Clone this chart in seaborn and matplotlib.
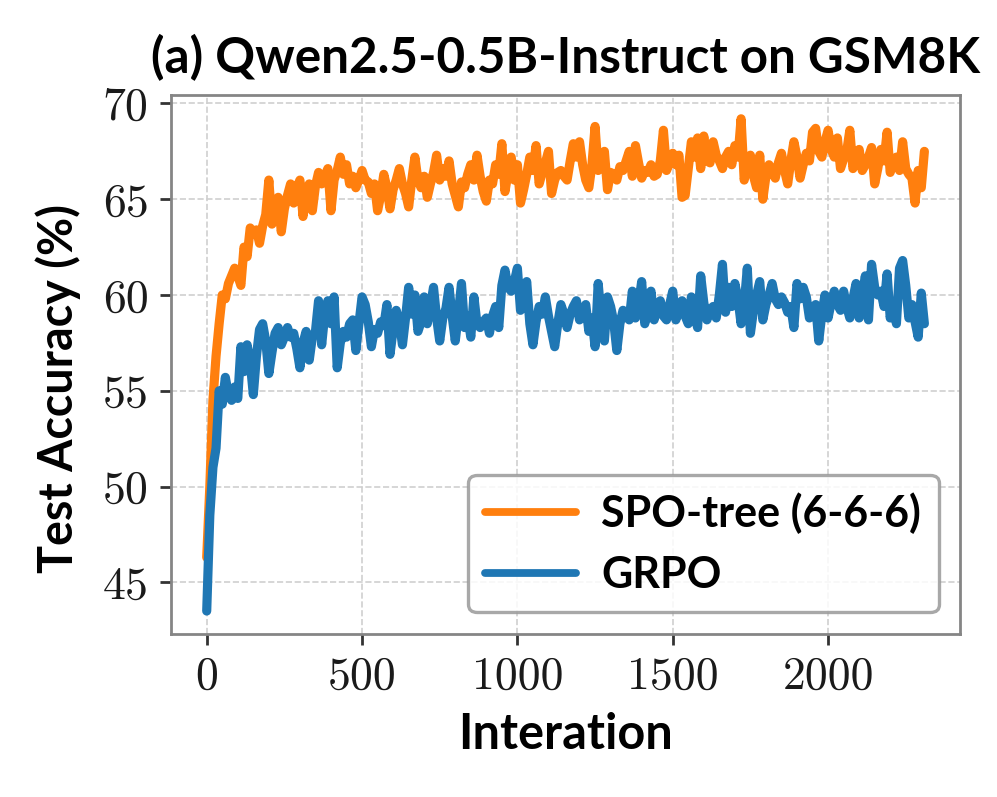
import numpy as np
import pandas as pd
import matplotlib
matplotlib.use("Agg")
import matplotlib.pyplot as plt
import seaborn as sns

# ---------------- data ----------------
iterations = list(range(0, 2311, 10))

spo_tree = [
    46.3, 50.0, 54.5, 56.8, 58.5, 60.0, 59.8, 60.6, 61.0, 61.4,
    61.0, 60.5, 62.5, 62.0, 63.5, 63.2, 63.4, 62.7, 63.6, 64.2,
    66.0, 63.7, 64.8, 65.1, 63.3, 64.5, 65.2, 65.8, 64.8, 65.6,
    66.0, 64.1, 65.4, 65.8, 64.4, 65.7, 66.4, 65.8, 66.2, 66.6,
    64.4, 66.0, 66.5, 67.2, 66.3, 66.8, 65.8, 66.2, 65.6, 66.0,
    66.5, 66.0, 65.9, 65.3, 65.8, 64.4, 65.2, 66.3, 65.6, 64.5,
    65.5, 66.0, 66.6, 65.8, 65.3, 64.6, 66.0, 67.2, 66.0, 65.6,
    66.2, 65.1, 65.8, 66.4, 67.3, 66.0, 66.6, 66.2, 67.0, 65.8,
    65.2, 64.6, 65.9, 65.6, 66.3, 66.8, 66.0, 67.3, 66.2, 65.4,
    64.9, 66.0, 65.8, 66.8, 66.3, 67.9, 65.4, 66.4, 67.2, 66.0,
    66.8, 64.8, 65.5, 66.3, 67.2, 66.5, 67.8, 65.8, 66.4, 66.9,
    67.5, 65.3, 66.0, 66.4, 66.5, 66.2, 66.0, 67.0, 67.9, 67.2,
    68.0, 66.8, 66.0, 65.6, 66.8, 68.8, 66.5, 66.8, 67.5, 65.5,
    66.4, 66.3, 66.0, 66.7, 66.5, 67.0, 67.5, 66.2, 67.8, 66.9,
    66.1, 66.5, 66.4, 66.8, 66.2, 66.3, 67.0, 68.6, 66.5, 66.9,
    67.4, 66.8, 67.3, 65.1, 65.2, 66.6, 68.0, 67.2, 68.2, 66.6,
    68.3, 67.0, 66.9, 68.0, 67.3, 67.0, 66.6, 67.2, 67.5, 66.8,
    67.8, 67.2, 69.2, 66.0, 66.8, 67.3, 66.2, 65.6, 67.3, 65.0,
    66.2, 66.8, 66.4, 66.1, 66.9, 67.4, 66.5, 65.8, 67.0, 68.0,
    67.2, 66.1, 66.8, 67.4, 67.0, 68.5, 68.7, 67.5, 67.2, 68.0,
    68.6, 67.6, 67.2, 68.2, 66.6, 67.1, 67.5, 68.6, 66.6, 67.0,
    67.6, 66.5, 66.8, 67.2, 67.7, 65.8, 66.6, 67.6, 67.0, 68.5,
    66.4, 67.0, 67.2, 66.5, 68.0, 66.6, 66.3, 66.1, 64.8, 66.5,
    65.6, 67.5,
]

grpo = [
    43.5, 48.5, 51.0, 52.0, 55.0, 54.3, 55.7, 54.8, 54.5, 55.2,
    54.6, 57.3, 56.0, 57.4, 56.5, 54.8, 56.8, 58.2, 58.5, 57.6,
    55.9, 57.0, 58.0, 58.3, 57.4, 57.8, 58.3, 57.8, 58.0, 57.2,
    56.2, 57.5, 58.1, 56.6, 57.8, 58.1, 59.7, 57.4, 59.0, 59.7,
    58.5, 59.9, 56.2, 57.5, 58.1, 57.8, 58.5, 58.7, 57.1, 58.5,
    59.9, 59.5, 58.6, 57.3, 58.2, 58.0, 58.6, 58.4, 59.5, 56.9,
    58.2, 59.2, 58.6, 57.4, 58.8, 60.4, 59.0, 60.0, 58.1, 58.6,
    59.9, 58.5, 59.4, 60.4, 58.8, 57.6, 58.8, 59.3, 60.4, 58.9,
    57.6, 59.0, 60.6, 58.3, 58.9, 57.8, 59.9, 58.5, 58.3, 58.6,
    58.8, 58.0, 58.9, 59.4, 58.3, 60.5, 61.3, 60.4, 60.2, 60.7,
    61.4, 59.2, 60.0, 60.7, 58.5, 57.4, 58.6, 59.4, 59.0, 59.9,
    58.9, 58.1, 57.3, 58.5, 59.5, 59.0, 58.3, 59.0, 59.4, 59.7,
    58.7, 59.1, 59.5, 58.1, 58.8, 57.3, 60.6, 58.8, 57.6, 59.9,
    59.4, 58.6, 57.1, 58.5, 59.2, 58.9, 58.7, 60.2, 58.8, 59.5,
    60.7, 58.5, 59.4, 60.2, 58.7, 59.3, 59.7, 58.9, 58.7, 59.5,
    60.2, 58.7, 59.2, 59.7, 58.9, 58.5, 59.9, 59.0, 58.3, 61.0,
    59.6, 58.7, 59.2, 59.4, 58.8, 60.0, 61.6, 59.1, 60.4, 59.4,
    60.6, 59.8, 58.5, 59.5, 61.4, 58.0, 59.2, 60.0, 60.7, 58.7,
    59.5, 60.0, 60.6, 59.8, 59.5, 59.9, 59.6, 59.1, 59.4, 58.3,
    60.6, 59.8, 60.4, 59.9, 58.8, 59.3, 59.5, 57.6, 59.0, 60.0,
    58.8, 59.6, 60.2, 59.5, 59.2, 60.2, 59.4, 58.8, 59.8, 60.6,
    58.8, 60.0, 61.0, 58.7, 61.6, 60.4, 60.0, 60.2, 59.4, 61.1,
    58.8, 59.6, 58.5, 61.4, 61.8, 60.5, 58.8, 59.5, 58.6, 57.8,
    60.1, 58.5,
]

series_names = ["SPO-tree (6-6-6)", "GRPO"]
series_colors = ["#ff7f0e", "#1f77b4"]
y_ticks = [45, 50, 55, 60, 65, 70]
x_ticks = [0, 500, 1000, 1500, 2000]

# ---------------- build table ----------------
df = pd.concat([
    pd.DataFrame({"Interation": iterations, "acc": spo_tree, "method": series_names[0]}),
    pd.DataFrame({"Interation": iterations, "acc": grpo, "method": series_names[1]}),
], ignore_index=True)

sns.set_style("whitegrid", {"grid.linestyle": "--", "grid.color": "#cfcfcf",
                            "axes.edgecolor": "#858585"})

fig = plt.figure(figsize=(4.985, 3.985), dpi=200)
ax = fig.add_axes([0.1715, 0.2045, 0.7915, 0.6765])

sns.lineplot(data=df, x="Interation", y="acc", hue="method",
             hue_order=series_names, palette=series_colors,
             estimator=None, linewidth=3.3, ax=ax)

ax.set_xticks(x_ticks)
ax.set_yticks(y_ticks)
ax.set_xlim(-115, 2425)
ax.set_ylim(42.3, 70.45)

tick_font = "cmr10"
for lab in ax.get_xticklabels() + ax.get_yticklabels():
    lab.set_fontfamily(tick_font)
    lab.set_fontsize(16.5)
    lab.set_color("#1a1a1a")

ax.tick_params(axis="both", which="major", direction="out", length=4,
               width=1.0, color="#333333", pad=4, bottom=True, left=True)

for sp in ax.spines.values():
    sp.set_linewidth(1.0)
    sp.set_edgecolor("#858585")

ax.grid(True, linestyle="--", linewidth=0.6, color="#cfcfcf")

ax.set_xlabel("Interation", fontdict=dict(family="Lato", weight="bold", size=17.5),
              labelpad=5, color="black")
ax.set_ylabel("Test Accuracy (%)", fontdict=dict(family="Lato", weight="bold", size=16.8),
              labelpad=8, color="black")
ax.yaxis.label.set_y(0.455)
ax.set_title("(a) Qwen2.5-0.5B-Instruct on GSM8K",
             fontdict=dict(family="Lato", weight="bold", size=17.8), pad=8,
             color="black")

leg = ax.legend(loc="lower right", prop=dict(family="Lato", weight="bold", size=15.5),
                frameon=True, fancybox=True, edgecolor="#999999",
                framealpha=0.85, handlelength=2.1, handletextpad=0.6,
                borderaxespad=0.5)
leg.get_frame().set_linewidth(1.2)
for txt in leg.get_texts():
    txt.set_color("black")
for line in leg.get_lines():
    line.set_linewidth(2.8)

fig.savefig("out.png", dpi=200)
